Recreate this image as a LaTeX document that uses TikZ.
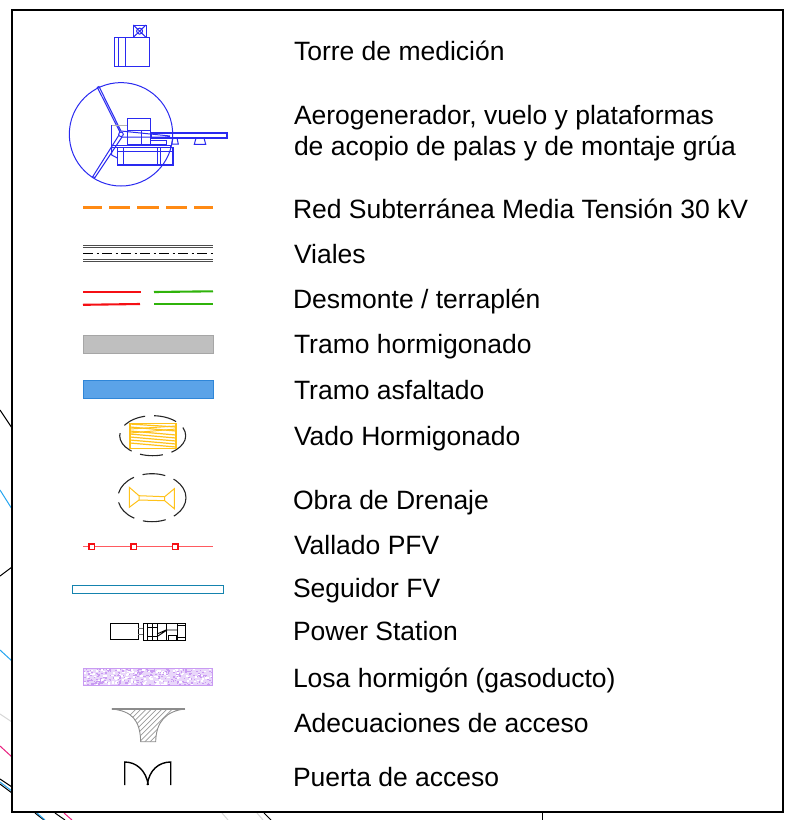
\documentclass[tikz,border=0pt]{standalone}
\usepackage{fontspec}
\setmainfont{Liberation Sans}
\usetikzlibrary{patterns}
\definecolor{cadblue}{HTML}{2A2AF0}
\definecolor{orangeline}{HTML}{FF8A14}
\definecolor{redline}{HTML}{F50F14}
\definecolor{greenline}{HTML}{2FB30A}
\definecolor{vadoyellow}{HTML}{FFC21A}
\definecolor{tealline}{HTML}{1583AE}
\definecolor{purplefill}{HTML}{C99BF2}
\definecolor{mapblue}{HTML}{25A5F0}
\definecolor{mappink}{HTML}{E8207F}
\definecolor{mapgrey}{HTML}{D8D8D8}
\definecolor{asphaltfill}{HTML}{5BA3E8}
\definecolor{asphaltedge}{HTML}{2F86D8}
\definecolor{fenceline}{HTML}{FF5A60}
\tikzset{
  x=1pt,y=-1pt,
  legendtext/.style={anchor=base west,inner sep=0pt,outer sep=0pt,font=\fontsize{26.5}{31}\selectfont,text=black,align=left},
  cad/.style={draw=cadblue,line width=1pt},
  cadthick/.style={draw=cadblue,line width=1.6pt},
  road/.style={draw=black!70,line width=0.9pt},
  dashring/.style={draw=black!85,line width=1.1pt,dash pattern=on 23pt off 9pt},
  vado/.style={draw=vadoyellow,line width=1pt},
  frag/.style={line width=1pt},
}
\begin{document}
\begin{tikzpicture}
\useasboundingbox (0,0) rectangle (795,820);
% map fragments outside the frame
\draw[frag,black] (0,410) -- (12,428);
\draw[frag,mapblue] (0,490) -- (12,509);
\draw[frag,black] (0,576) -- (12,567);
\draw[frag,mapblue] (0,650) -- (12,661);
\draw[frag,mapgrey] (0,714) -- (12,722);
\draw[frag,mappink] (0,746) -- (12,757);
\draw[frag,black] (0,779) -- (12,787);
\draw[frag,mapblue] (0,782) -- (12,791);
\draw[frag,black] (0,784) -- (12,793);
\draw[frag,black] (35,813) -- (44,820);
\draw[frag,mapblue] (37,813) -- (45,820);
\draw[frag,black] (55,813) -- (65,820);
\draw[frag,mappink] (64,813) -- (72,820);
\draw[frag,mapgrey] (222,813) -- (228,820);
\draw[frag,mapgrey] (257,813) -- (263,820);
\draw[frag,black] (264,813) -- (271,820);
\draw[frag,black] (542.5,813) -- (542.5,820);
% frame
\draw[black,line width=2pt] (12,10) rectangle (783,812);
% measurement tower
\draw[cad] (133.3,25) rectangle (146,37.3);
\draw[cad] (133.3,25) -- (146,37.3) (146,25) -- (133.3,37.3);
\draw[cad] (139.6,31.1) circle (3);
\draw[cad] (114,37.3) rectangle (149.3,66);
\draw[cad] (118.3,37.3) -- (118.3,66) (125.3,37.3) -- (125.3,66);
% wind turbine
\draw[cad] (121,134.3) circle (51.7);
\draw[cad] (121,134.3) -- (97.3,87.3) -- (99,86.5) -- (121,131);
\draw[cad] (119,135) -- (92.7,176.7) -- (95,177.5) -- (122,137);
\draw[draw=black!30,line width=0.8pt] (111.7,125) rectangle (127.3,145);
\draw[cad] (111.7,125) -- (111.7,145) -- (127.3,145);
\draw[cad] (127.3,118.3) rectangle (150.7,130.7);
\draw[cad] (127.3,130.7) rectangle (150.7,144);
\draw[cad] (141,130.7) -- (141,144);
\draw[cad] (121,131) -- (170,136) (121,137) -- (170,137);
\draw[cadthick] (150.7,132.7) rectangle (226.7,138);
\draw[cad] (150.7,140) rectangle (166.7,144);
\draw[cad] (171.7,144) -- (173,138) -- (177,138) -- (178.3,144) -- cycle;
\draw[cad] (194.3,144.3) -- (196,138) -- (204,138) -- (205.7,144.3) -- cycle;
\draw[cad] (111.7,145) rectangle (170,147.3);
\draw[cadthick] (117.3,147.3) rectangle (172.7,164.7);
\draw[cad] (117.3,151.7) -- (172.7,151.7);
\draw[cad] (123.3,147.3) -- (123.3,164.7) (157.7,147.3) -- (157.7,164.7) (160,147.3) -- (160,164.7);
\draw[cad] (111.7,145) -- (111.7,155) -- (117.3,158);
\draw[cad,fill=white] (121,134.3) circle (2.3);
% medium-voltage line
\draw[orangeline,line width=3pt] (83,207) -- (101.7,207) (109.3,207) -- (130,207) (137.3,207) -- (158.7,207) (166,207) -- (187,207) (194.3,207) -- (213.3,207);
% roads
\draw[road] (83,245.5) -- (213,245.5) (83,247) -- (213,247);
\draw[road] (83,259.5) -- (213,259.5) (83,261) -- (213,261);
\draw[draw=black,line width=1.1pt,dash pattern=on 10pt off 3.5pt on 2pt off 3.5pt] (83,253.3) -- (213,253.3);
% cut and fill
\draw[redline,line width=2.1pt] (83,291.7) -- (140.7,291.7);
\draw[redline,line width=2.1pt] (83,304.8) -- (140,304);
\draw[greenline,line width=2.1pt] (154,292) -- (213,291.3);
\draw[greenline,line width=2.1pt] (154,304) -- (213,304);
% concrete and asphalt
\draw[fill=black!25,draw=black!35,line width=0.7pt] (83,335) rectangle (213,353);
\draw[fill=asphaltfill,draw=asphaltedge,line width=0.7pt] (83,380) rectangle (213,398);
% concrete ford
\draw[dashring] (152.7,435.7) ellipse (33 and 20);
\draw[draw=vadoyellow,line width=1.5pt] (130,423.3) rectangle (176,448.3);
\foreach \a/\b in {424/427,427/431,431/435,434/438,437/441,440/444,443/447}{
  \draw[vado,line width=1.2pt] (130,\a) -- (176,\b);
}
\draw[vado] (130,429) -- (176,426) (130,433) -- (176,429);
% drainage work
\draw[dashring] (152,497.7) ellipse (34 and 24);
\draw[vado] (129.3,487.3) -- (139,495.7) -- (139,500) -- (129.3,507.3) -- cycle;
\draw[vado] (174.3,488.7) -- (164.7,496.7) -- (164.7,500.7) -- (174.3,508.7) -- cycle;
\draw[vado] (139,495.7) -- (164.7,496.7) (139,500) -- (164.7,500.7);
% fence
\draw[draw=fenceline,line width=1.2pt] (83,546.7) -- (213,546.7);
\foreach \x in {91.7,133.7,175.3}{
  \draw[draw=redline,fill=white,line width=1.1pt] (\x-2.7,544) rectangle (\x+2.7,549.4);
}
% PV tracker
\draw[tealline,line width=1.2pt] (72.3,585.3) rectangle (223.3,593.7);
% power station
\draw[black,line width=1pt] (110.3,623.7) rectangle (138.3,639.3);
\draw[black!55,line width=1pt] (138.3,628.3) -- (143.3,628.3) (138.3,634.3) -- (143.3,634.3);
\draw[black,line width=1.1pt] (143.3,623.7) rectangle (185.7,640.3);
\draw[black,line width=0.9pt] (147,623.7) -- (147,640.3) (152,623.7) -- (152,640.3) (157,623.7) -- (157,640.3) (166,623.7) -- (166,640.3) (177,623.7) -- (177,640.3);
\draw[black,line width=0.9pt] (147,627) -- (157,627) (147,636.5) -- (157,636.5);
\draw[black,line width=0.9pt] (157,634) -- (166,630) (158,636) -- (167,630) (166,630) -- (177,630);
\draw[black,line width=0.9pt] (168.5,635) rectangle (176,640.3);
\draw[black,line width=0.9pt] (177,625) rectangle (185.7,637);
% concrete slab
\begin{scope}
\clip (83.3,668.3) rectangle (212.7,685.3);
\pgfmathsetseed{7}
\fill[purplefill!40] (83.3,668.3) rectangle (212.7,685.3);
\foreach \i in {1,...,300}{
  \pgfmathsetmacro{\px}{83.3+129.4*rnd}
  \pgfmathsetmacro{\py}{668.3+17*rnd}
  \fill[purplefill] (\px,\py) rectangle (\px+1.6,\py+1.3);
}
\foreach \i in {1,...,130}{
  \pgfmathsetmacro{\px}{83.3+129.4*rnd}
  \pgfmathsetmacro{\py}{668.3+17*rnd}
  \fill[white] (\px,\py) rectangle (\px+2.2,\py+1.6);
}
\end{scope}
\draw[purplefill,line width=1.2pt] (83.3,668.3) rectangle (212.7,685.3);
% access works
\begin{scope}
\clip (111.7,709) .. controls (132,711) and (140,720) .. (140.7,741.7) -- (155.7,741.7) .. controls (156,722) and (166,711) .. (185,709) -- cycle;
\foreach \d in {0,5.2,...,90}{
  \draw[black!40,line width=0.7pt] (100+\d,745) -- (100+\d+40,705);
}
\end{scope}
\draw[black!45,line width=1.1pt] (111.7,709) -- (185,709);
\draw[black!45,line width=0.9pt] (111.7,709) .. controls (132,711) and (140,720) .. (140.7,741.7) -- (155.7,741.7) .. controls (156,722) and (166,711) .. (185,709);
% access gate
\draw[black,line width=1.4pt] (124.7,785) -- (124.7,762) .. controls (136,762) and (146,770) .. (148.3,785);
\draw[black,line width=1.4pt] (170.7,785) -- (170.7,762) .. controls (159,762) and (149,770) .. (147.3,785);
% labels
\node[legendtext] (t1) at (294,60) {Torre de medición};
\node[legendtext] (t2a) at (294,124.5) {Aerogenerador, vuelo y plataformas};
\node[legendtext] (t2b) at (294,155.5) {de acopio de palas y de montaje grúa};
\node[legendtext] (t3) at (293,218) {Red Subterránea Media Tensión 30 kV};
\node[legendtext] (t4) at (294,263) {Viales};
\node[legendtext] (t5) at (293,308) {Desmonte / terraplén};
\node[legendtext] (t6) at (294,353) {Tramo hormigonado};
\node[legendtext] (t7) at (294,399) {Tramo asfaltado};
\node[legendtext] (t8) at (294,445) {Vado Hormigonado};
\node[legendtext] (t9) at (293,509) {Obra de Drenaje};
\node[legendtext] (t10) at (294,554) {Vallado PFV};
\node[legendtext] (t11) at (293,597) {Seguidor FV};
\node[legendtext] (t12) at (293,640) {Power Station};
\node[legendtext] (t13) at (293,687) {Losa hormigón (gasoducto)};
\node[legendtext] (t14) at (294,732) {Adecuaciones de acceso};
\node[legendtext] (t15) at (293,786) {Puerta de acceso};
\end{tikzpicture}
\end{document}
